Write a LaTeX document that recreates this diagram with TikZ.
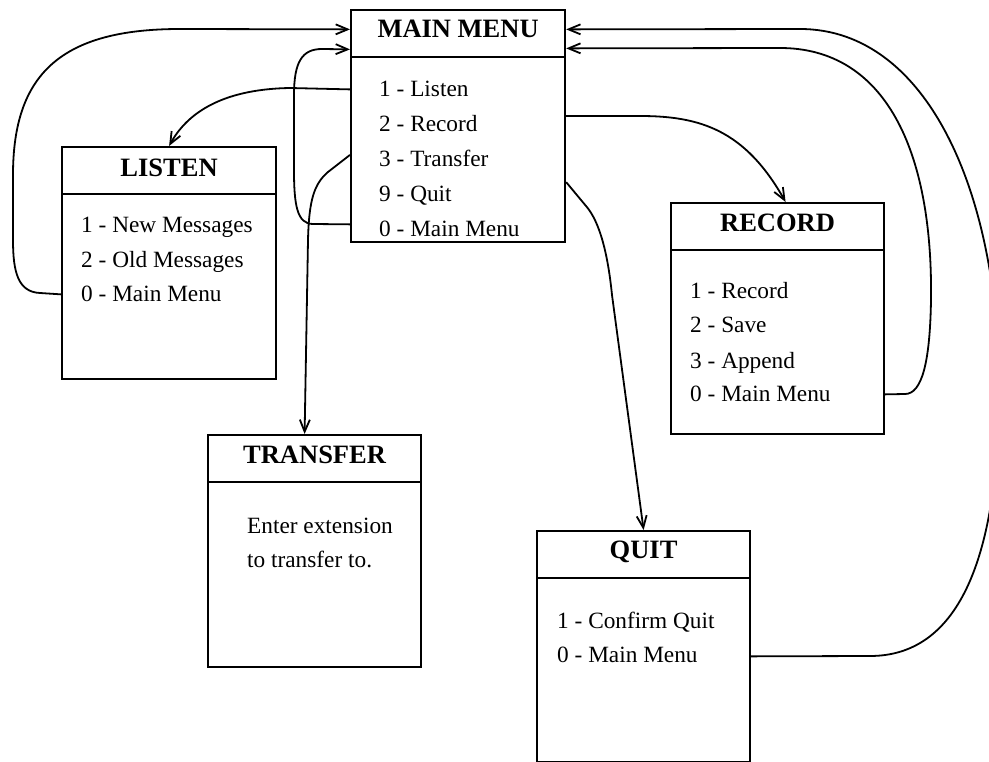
\documentclass[tikz,border=0pt]{standalone}
\usepackage{fontspec}
\setmainfont{Liberation Serif}
\usetikzlibrary{arrows.meta,calc}
\begin{document}
\begin{tikzpicture}[x=1pt,y=-1pt,
  menubox/.style={draw, line width=2.2pt, rectangle, anchor=north west,
    inner sep=0pt, minimum width=214pt, minimum height=232pt},
  rule/.style={line width=2.2pt},
  ttl/.style={font=\fontsize{26.5}{30}\selectfont\bfseries, anchor=base, inner sep=0pt},
  item/.style={font=\fontsize{23.3}{28}\selectfont, anchor=base west, inner sep=0pt},
  link/.style={line width=1.8pt, -{Straight Barb[length=12pt,width=10pt]}}]

\path[use as bounding box] (0,0) rectangle (989,762);
\clip (0,0) rectangle (989,762);

% menu frames
\node[menubox] (main)     at (350,9)   {};
\node[menubox] (listen)   at (61,146)  {};
\node[menubox, minimum width=213pt, minimum height=231pt] (record) at (670,202) {};
\node[menubox, minimum width=213pt] (transfer) at (207,434) {};
\node[menubox, minimum width=213pt, minimum height=231pt] (quit) at (536,530) {};

% title separators
\foreach \b in {main,listen,record,transfer,quit}
  \draw[rule] ($(\b.north west)+(0,48)$) -- ($(\b.north east)+(0,48)$);

% titles
\node[ttl] (main-t)     at ($(main.north)+(0,29)$)     {MAIN MENU};
\node[ttl] (listen-t)   at ($(listen.north)+(0,31)$)   {LISTEN};
\node[ttl] (record-t)   at ($(record.north)+(0,30)$)   {RECORD};
\node[ttl] (transfer-t) at ($(transfer.north)+(0,29)$) {TRANSFER};
\node[ttl] (quit-t)     at ($(quit.north)+(0,28)$)     {QUIT};

% menu entries
\node[item] (main-1) at (379,97)  {1 - Listen};
\node[item] (main-2) at (379,132) {2 - Record};
\node[item] (main-3) at (379,167) {3 - Transfer};
\node[item] (main-4) at (379,202) {9 - Quit};
\node[item] (main-5) at (379,237) {0 - Main Menu};

\node[item] (listen-1) at (81,233) {1 - New Messages};
\node[item] (listen-2) at (81,268) {2 - Old Messages};
\node[item] (listen-3) at (81,302) {0 - Main Menu};

\node[item] (record-1) at (690,299) {1 - Record};
\node[item] (record-2) at (690,333) {2 - Save};
\node[item] (record-3) at (690,368) {3 - Append};
\node[item] (record-4) at (690,402) {0 - Main Menu};

\node[item] (transfer-1) at (247,533) {Enter extension};
\node[item] (transfer-2) at (247,567) {to transfer to.};

\node[item] (quit-1) at (557,628) {1 - Confirm Quit};
\node[item] (quit-2) at (557,662) {0 - Main Menu};

% transitions out of the main menu
\draw[link] (main-1 -| main.west) -- (290,88)
  .. controls (230,89) and (190,108) .. (listen.north);
\draw[link] ($(main-2 -| main.east)+(0,-8)$) -- (640,116)
  .. controls (700,116) and (745,130) .. ($(record.north)+(8,0)$);
\draw[link] ($(main-3 -| main.west)+(0,-4)$) -- (328,172)
  .. controls (314,184) and (309,200) .. (308,240) -- ($(transfer.north)+(-10,0)$);
\draw[link] ($(main-4 -| main.east)+(0,-14)$) -- (586,206)
  .. controls (600,222) and (608,255) .. (612,295) -- (quit.north);
\draw[link] ($(main-5 -| main.west)+(0,-5)$) -- (313,224)
  .. controls (297,224) and (294,205) .. (294,170) -- (294,95)
  .. controls (294,62) and (302,49) .. (322,49) -- ($(main-t -| main.west)+(0,20)$);

% returns to the main menu
\draw[link] (listen-3 -| listen.west) -- (40,293)
  .. controls (18,292) and (13,272) .. (13,240) -- (13,175)
  .. controls (13,75) and (60,29) .. (180,29) -- (main-t -| main.west);
\draw[link] (record-4 -| record.east) -- (905,394)
  .. controls (922,394) and (930,362) .. (931,300)
  .. controls (933,150) and (885,48) .. (780,48) -- ($(main-t -| main.east)+(0,19)$);
\draw[link] ($(quit-2 -| quit.east)+(0,2)$) -- (870,656)
  .. controls (958,656) and (997,560) .. (999,400)
  .. controls (1002,200) and (930,29) .. (800,29) -- (main-t -| main.east);
\end{tikzpicture}
\end{document}
